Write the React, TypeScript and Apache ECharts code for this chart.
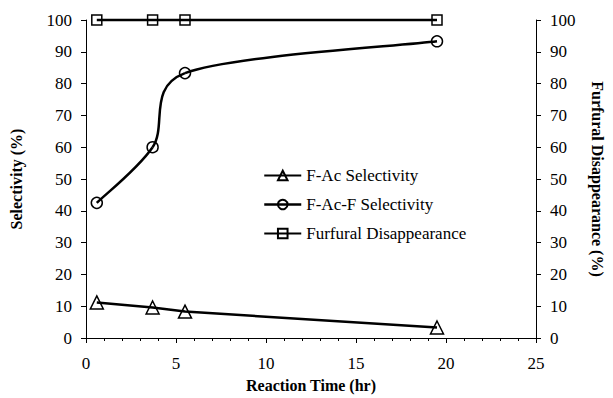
import React, { useEffect, useRef } from "react";
import * as echarts from "echarts";

const timeHr = [0.6, 3.7, 5.5, 19.5];
const fAcSelectivity = [11.2, 9.6, 8.3, 3.3];
const fAcFSelectivity = [42.5, 60, 83.3, 93.3];
const furfuralDisappearance = [100, 100, 100, 100];
const seriesNames = ["F-Ac Selectivity", "F-Ac-F Selectivity", "Furfural Disappearance"];

const FONT = '"Liberation Serif", "Times New Roman", serif';

const pairs = (ys: number[]) => timeHr.map((x, i) => [x, ys[i]]);

export default function App() {
  const ref = useRef<HTMLDivElement>(null);
  useEffect(() => {
    const chart = echarts.init(ref.current!, undefined, { renderer: "svg" });
    const axisLine = { show: true, lineStyle: { color: "#000", width: 1 } };
    const axisLabel = { color: "#000", fontFamily: FONT, fontSize: 17, margin: 14 };
    const yAxisBase = {
      type: "value",
      min: 0,
      max: 100,
      interval: 10,
      axisLine,
      axisTick: { show: true, length: 5, lineStyle: { color: "#000" } },
      axisLabel,
      splitLine: { show: false },
      nameLocation: "middle",
      nameTextStyle: { color: "#000", fontFamily: FONT, fontSize: 16, fontWeight: "bold" },
    };
    const marker = { color: "transparent", borderColor: "#000", borderWidth: 1.5 };
    const line = { color: "#000", width: 2.5 };
    chart.setOption({
      animation: false,
      backgroundColor: "#fff",
      grid: { left: 80, right: 68, top: 20, bottom: 60 },
      legend: {
        orient: "vertical",
        left: 258,
        top: 162,
        itemWidth: 37,
        itemHeight: 12,
        itemGap: 12,
        textStyle: { color: "#000", fontFamily: FONT, fontSize: 17, lineHeight: 17 },
        data: [
          { name: seriesNames[0] },
          { name: seriesNames[1], lineStyle: { color: "#000", width: 2.5, opacity: 1 } },
          { name: seriesNames[2] },
        ],
      },
      xAxis: {
        type: "value",
        min: 0,
        max: 25,
        interval: 5,
        axisLine,
        axisTick: { show: true, length: 5, lineStyle: { color: "#000" } },
        minorTick: { show: true, splitNumber: 5, length: 3, lineStyle: { color: "#000" } },
        axisLabel: { ...axisLabel, margin: 17 },
        splitLine: { show: false },
        name: "Reaction Time (hr)",
        nameLocation: "middle",
        nameGap: 39,
        nameTextStyle: { color: "#000", fontFamily: FONT, fontSize: 16, fontWeight: "bold" },
      },
      yAxis: [
        { ...yAxisBase, position: "left", name: "Selectivity (%)", nameGap: 62 },
        {
          ...yAxisBase,
          position: "right",
          name: "Furfural Disappearance (%)",
          nameGap: 53,
          nameRotate: -90,
        },
      ],
      series: [
        {
          type: "custom",
          name: "curve",
          data: pairs(fAcFSelectivity),
          silent: true,
          z: 1,
          renderItem: (params: any, api: any) => {
            const i = params.dataIndex;
            if (i >= timeHr.length - 1) return { type: "group", children: [] };
            const P = timeHr.map((x, k) => api.coord([x, fAcFSelectivity[k]]));
            const p0 = P[Math.max(i - 1, 0)];
            const p1 = P[i];
            const p2 = P[i + 1];
            const p3 = P[Math.min(i + 2, P.length - 1)];
            const f = 1 / 6;
            const seg = Math.hypot(p2[0] - p1[0], p2[1] - p1[1]);
            const arm = (a: number[], b: number[]) => {
              const dx = f * (b[0] - a[0]);
              const dy = f * (b[1] - a[1]);
              const len = Math.hypot(dx, dy);
              const s = len > seg / 2 ? seg / 2 / len : 1;
              return [dx * s, dy * s];
            };
            const a1 = arm(p0, p2);
            const a2 = arm(p1, p3);
            return {
              type: "bezierCurve",
              shape: {
                x1: p1[0],
                y1: p1[1],
                cpx1: p1[0] + a1[0],
                cpy1: p1[1] + a1[1],
                cpx2: p2[0] - a2[0],
                cpy2: p2[1] - a2[1],
                x2: p2[0],
                y2: p2[1],
              },
              style: { stroke: "#000", lineWidth: 2.5, fill: "none" },
            };
          },
        },
        {
          type: "line",
          name: seriesNames[0],
          data: pairs(fAcSelectivity),
          symbol: "triangle",
          symbolSize: 13,
          lineStyle: line,
          itemStyle: marker,
          clip: false,
          z: 3,
        },
        {
          type: "line",
          name: seriesNames[1],
          data: pairs(fAcFSelectivity),
          symbol: "circle",
          symbolSize: 11,
          lineStyle: { color: "#000", width: 2.5, opacity: 0 },
          itemStyle: marker,
          clip: false,
          z: 3,
        },
        {
          type: "line",
          name: seriesNames[2],
          data: pairs(furfuralDisappearance),
          symbol: "rect",
          symbolSize: 10,
          lineStyle: line,
          itemStyle: marker,
          clip: false,
          z: 3,
        },
      ],
    });
    return () => chart.dispose();
  }, []);
  return (
    <div
      ref={ref}
      style={{ position: "fixed", left: 0, top: 0, width: 613, height: 398 }}
    />
  );
}
